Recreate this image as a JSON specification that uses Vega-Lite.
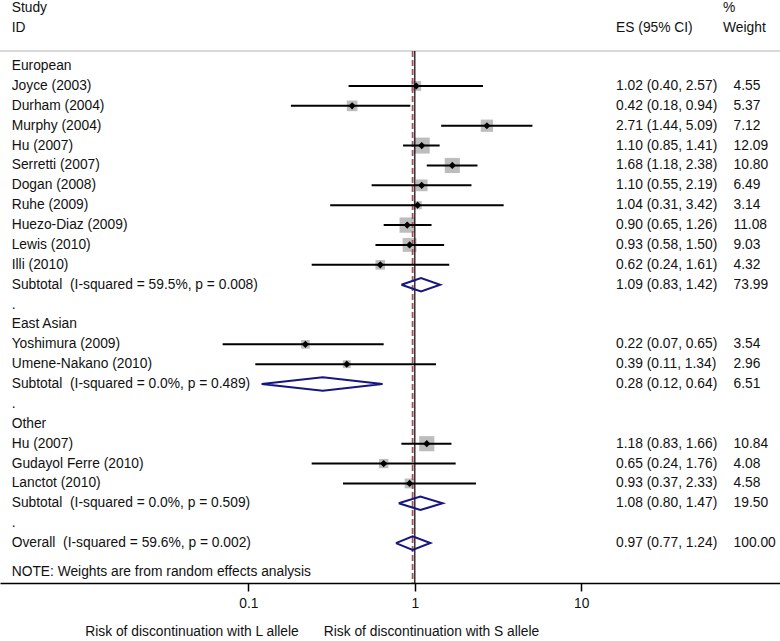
{
  "$schema": "https://vega.github.io/schema/vega-lite/v6.json",
  "width": 780,
  "height": 583,
  "autosize": {"type": "none"},
  "padding": {"left": 0, "top": 0, "right": 0, "bottom": 58},
  "config": {
    "view": {"stroke": null},
    "font": "Liberation Sans",
    "text": {"font": "Liberation Sans", "fontSize": 13.8, "color": "#111111", "baseline": "middle"}
  },
  "datasets": {
    "rows": [
      {"row": -1.92, "label": "Study", "wh": "%"},
      {"row": -0.94, "label": "ID", "estxt": "ES (95% CI)", "wh": "Weight"},
      {"row": 1, "label": "European", "kind": "head"},
      {"row": 2, "label": "Joyce (2003)", "kind": "study", "es": 1.02, "lo": 0.40, "hi": 2.57, "w": 4.55, "estxt": "1.02 (0.40, 2.57)", "wtxt": "4.55"},
      {"row": 3, "label": "Durham (2004)", "kind": "study", "es": 0.42, "lo": 0.18, "hi": 0.94, "w": 5.37, "estxt": "0.42 (0.18, 0.94)", "wtxt": "5.37"},
      {"row": 4, "label": "Murphy (2004)", "kind": "study", "es": 2.71, "lo": 1.44, "hi": 5.09, "w": 7.12, "estxt": "2.71 (1.44, 5.09)", "wtxt": "7.12"},
      {"row": 5, "label": "Hu (2007)", "kind": "study", "es": 1.10, "lo": 0.85, "hi": 1.41, "w": 12.09, "estxt": "1.10 (0.85, 1.41)", "wtxt": "12.09"},
      {"row": 6, "label": "Serretti (2007)", "kind": "study", "es": 1.68, "lo": 1.18, "hi": 2.38, "w": 10.80, "estxt": "1.68 (1.18, 2.38)", "wtxt": "10.80"},
      {"row": 7, "label": "Dogan (2008)", "kind": "study", "es": 1.10, "lo": 0.55, "hi": 2.19, "w": 6.49, "estxt": "1.10 (0.55, 2.19)", "wtxt": "6.49"},
      {"row": 8, "label": "Ruhe (2009)", "kind": "study", "es": 1.04, "lo": 0.31, "hi": 3.42, "w": 3.14, "estxt": "1.04 (0.31, 3.42)", "wtxt": "3.14"},
      {"row": 9, "label": "Huezo-Diaz (2009)", "kind": "study", "es": 0.90, "lo": 0.65, "hi": 1.26, "w": 11.08, "estxt": "0.90 (0.65, 1.26)", "wtxt": "11.08"},
      {"row": 10, "label": "Lewis (2010)", "kind": "study", "es": 0.93, "lo": 0.58, "hi": 1.50, "w": 9.03, "estxt": "0.93 (0.58, 1.50)", "wtxt": "9.03"},
      {"row": 11, "label": "Illi (2010)", "kind": "study", "es": 0.62, "lo": 0.24, "hi": 1.61, "w": 4.32, "estxt": "0.62 (0.24, 1.61)", "wtxt": "4.32"},
      {"row": 12, "label": "Subtotal\u00a0 (I-squared = 59.5%, p = 0.008)", "kind": "sub", "estxt": "1.09 (0.83, 1.42)", "wtxt": "73.99"},
      {"row": 13, "label": ".", "kind": "blank"},
      {"row": 14, "label": "East Asian", "kind": "head"},
      {"row": 15, "label": "Yoshimura (2009)", "kind": "study", "es": 0.22, "lo": 0.07, "hi": 0.65, "w": 3.54, "estxt": "0.22 (0.07, 0.65)", "wtxt": "3.54"},
      {"row": 16, "label": "Umene-Nakano (2010)", "kind": "study", "es": 0.39, "lo": 0.11, "hi": 1.34, "w": 2.96, "estxt": "0.39 (0.11, 1.34)", "wtxt": "2.96"},
      {"row": 17, "label": "Subtotal\u00a0 (I-squared = 0.0%, p = 0.489)", "kind": "sub", "estxt": "0.28 (0.12, 0.64)", "wtxt": "6.51"},
      {"row": 18, "label": ".", "kind": "blank"},
      {"row": 19, "label": "Other", "kind": "head"},
      {"row": 20, "label": "Hu (2007)", "kind": "study", "es": 1.18, "lo": 0.83, "hi": 1.66, "w": 10.84, "estxt": "1.18 (0.83, 1.66)", "wtxt": "10.84"},
      {"row": 21, "label": "Gudayol Ferre (2010)", "kind": "study", "es": 0.65, "lo": 0.24, "hi": 1.76, "w": 4.08, "estxt": "0.65 (0.24, 1.76)", "wtxt": "4.08"},
      {"row": 22, "label": "Lanctot (2010)", "kind": "study", "es": 0.93, "lo": 0.37, "hi": 2.33, "w": 4.58, "estxt": "0.93 (0.37, 2.33)", "wtxt": "4.58"},
      {"row": 23, "label": "Subtotal\u00a0 (I-squared = 0.0%, p = 0.509)", "kind": "sub", "estxt": "1.08 (0.80, 1.47)", "wtxt": "19.50"},
      {"row": 24, "label": ".", "kind": "blank"},
      {"row": 25, "label": "Overall\u00a0 (I-squared = 59.6%, p = 0.002)", "kind": "sub", "estxt": "0.97 (0.77, 1.24)", "wtxt": "100.00"},
      {"row": 26.45, "label": "NOTE: Weights are from random effects analysis", "kind": "note"}
    ],
    "diam": [
      {"g": "European", "k": 0, "x": 0.83, "row": 12},
      {"g": "European", "k": 1, "x": 1.09, "row": 11.66},
      {"g": "European", "k": 2, "x": 1.42, "row": 12},
      {"g": "European", "k": 3, "x": 1.09, "row": 12.34},
      {"g": "European", "k": 4, "x": 0.83, "row": 12},
      {"g": "East Asian", "k": 0, "x": 0.12, "row": 17},
      {"g": "East Asian", "k": 1, "x": 0.28, "row": 16.66},
      {"g": "East Asian", "k": 2, "x": 0.64, "row": 17},
      {"g": "East Asian", "k": 3, "x": 0.28, "row": 17.34},
      {"g": "East Asian", "k": 4, "x": 0.12, "row": 17},
      {"g": "Other", "k": 0, "x": 0.80, "row": 23},
      {"g": "Other", "k": 1, "x": 1.08, "row": 22.66},
      {"g": "Other", "k": 2, "x": 1.47, "row": 23},
      {"g": "Other", "k": 3, "x": 1.08, "row": 23.34},
      {"g": "Other", "k": 4, "x": 0.80, "row": 23},
      {"g": "Overall", "k": 0, "x": 0.77, "row": 25},
      {"g": "Overall", "k": 1, "x": 0.97, "row": 24.66},
      {"g": "Overall", "k": 2, "x": 1.24, "row": 25},
      {"g": "Overall", "k": 3, "x": 0.97, "row": 25.34},
      {"g": "Overall", "k": 4, "x": 0.77, "row": 25}
    ]
  },
  "layer": [
    {
      "data": {"values": [{}]},
      "mark": {"type": "rule", "color": "#cccccc", "strokeWidth": 1.5},
      "encoding": {
        "y": {"datum": 0.24, "type": "quantitative", "scale": {"domain": [-2.327, 27.01], "reverse": true, "nice": false, "zero": false}, "axis": null}
      }
    },
    {
      "data": {"name": "rows"},
      "transform": [{"filter": "datum.kind == 'study'"}],
      "mark": {"type": "square", "color": "#bdbdbd", "opacity": 1},
      "encoding": {
        "x": {"field": "es", "type": "quantitative", "scale": {"type": "log", "domain": [0.003215, 156.5], "nice": false}, "axis": {"values": [0.1, 1, 10], "format": "~g", "title": null, "grid": false, "domainColor": "#000000", "domainWidth": 1.5, "tickColor": "#000000", "tickWidth": 1.5, "tickSize": 8, "labelFontSize": 13.8, "labelColor": "#111111", "labelFont": "Liberation Sans", "labelPadding": 5, "labelFlush": false, "labelOverlap": false}},
        "y": {"field": "row", "type": "quantitative", "scale": {"domain": [-2.327, 27.01], "reverse": true, "nice": false, "zero": false}, "axis": null},
        "size": {"field": "w", "type": "quantitative", "scale": {"type": "linear", "domain": [0, 12.09], "range": [0, 256], "zero": true}, "legend": null}
      }
    },
    {
      "data": {"values": [{}]},
      "mark": {"type": "rule", "color": "#000000", "strokeWidth": 1.2},
      "encoding": {
        "x": {"datum": 1, "type": "quantitative", "scale": {"type": "log", "domain": [0.003215, 156.5], "nice": false}, "axis": {"values": [0.1, 1, 10], "format": "~g", "title": null, "grid": false, "domainColor": "#000000", "domainWidth": 1.5, "tickColor": "#000000", "tickWidth": 1.5, "tickSize": 8, "labelFontSize": 13.8, "labelColor": "#111111", "labelFont": "Liberation Sans", "labelPadding": 5, "labelFlush": false, "labelOverlap": false}},
        "y": {"datum": 0.24, "type": "quantitative", "scale": {"domain": [-2.327, 27.01], "reverse": true, "nice": false, "zero": false}, "axis": null},
        "y2": {"datum": 27.01}
      }
    },
    {
      "data": {"values": [{}]},
      "mark": {"type": "rule", "color": "#a8505a", "strokeWidth": 1.8, "strokeDash": [6, 3]},
      "encoding": {
        "x": {"datum": 0.97, "type": "quantitative", "scale": {"type": "log", "domain": [0.003215, 156.5], "nice": false}, "axis": {"values": [0.1, 1, 10], "format": "~g", "title": null, "grid": false, "domainColor": "#000000", "domainWidth": 1.5, "tickColor": "#000000", "tickWidth": 1.5, "tickSize": 8, "labelFontSize": 13.8, "labelColor": "#111111", "labelFont": "Liberation Sans", "labelPadding": 5, "labelFlush": false, "labelOverlap": false}},
        "y": {"datum": 0.24, "type": "quantitative", "scale": {"domain": [-2.327, 27.01], "reverse": true, "nice": false, "zero": false}, "axis": null},
        "y2": {"datum": 27.01}
      }
    },
    {
      "data": {"name": "rows"},
      "transform": [{"filter": "datum.kind == 'study'"}],
      "mark": {"type": "rule", "color": "#000000", "strokeWidth": 2},
      "encoding": {
        "x": {"field": "lo", "type": "quantitative", "scale": {"type": "log", "domain": [0.003215, 156.5], "nice": false}, "axis": {"values": [0.1, 1, 10], "format": "~g", "title": null, "grid": false, "domainColor": "#000000", "domainWidth": 1.5, "tickColor": "#000000", "tickWidth": 1.5, "tickSize": 8, "labelFontSize": 13.8, "labelColor": "#111111", "labelFont": "Liberation Sans", "labelPadding": 5, "labelFlush": false, "labelOverlap": false}},
        "x2": {"field": "hi"},
        "y": {"field": "row", "type": "quantitative", "scale": {"domain": [-2.327, 27.01], "reverse": true, "nice": false, "zero": false}, "axis": null}
      }
    },
    {
      "data": {"name": "rows"},
      "transform": [{"filter": "datum.kind == 'study'"}],
      "mark": {"type": "point", "shape": "diamond", "filled": true, "color": "#000000", "size": 52, "opacity": 1},
      "encoding": {
        "x": {"field": "es", "type": "quantitative", "scale": {"type": "log", "domain": [0.003215, 156.5], "nice": false}, "axis": {"values": [0.1, 1, 10], "format": "~g", "title": null, "grid": false, "domainColor": "#000000", "domainWidth": 1.5, "tickColor": "#000000", "tickWidth": 1.5, "tickSize": 8, "labelFontSize": 13.8, "labelColor": "#111111", "labelFont": "Liberation Sans", "labelPadding": 5, "labelFlush": false, "labelOverlap": false}},
        "y": {"field": "row", "type": "quantitative", "scale": {"domain": [-2.327, 27.01], "reverse": true, "nice": false, "zero": false}, "axis": null}
      }
    },
    {
      "data": {"name": "diam"},
      "mark": {"type": "line", "color": "#161680", "strokeWidth": 2},
      "encoding": {
        "x": {"field": "x", "type": "quantitative", "scale": {"type": "log", "domain": [0.003215, 156.5], "nice": false}, "axis": {"values": [0.1, 1, 10], "format": "~g", "title": null, "grid": false, "domainColor": "#000000", "domainWidth": 1.5, "tickColor": "#000000", "tickWidth": 1.5, "tickSize": 8, "labelFontSize": 13.8, "labelColor": "#111111", "labelFont": "Liberation Sans", "labelPadding": 5, "labelFlush": false, "labelOverlap": false}},
        "y": {"field": "row", "type": "quantitative", "scale": {"domain": [-2.327, 27.01], "reverse": true, "nice": false, "zero": false}, "axis": null},
        "detail": {"field": "g", "type": "nominal"},
        "order": {"field": "k", "type": "quantitative"}
      }
    },
    {
      "data": {"name": "rows"},
      "mark": {"type": "text", "align": "left"},
      "encoding": {
        "x": {"datum": 0.003779, "type": "quantitative", "scale": {"type": "log", "domain": [0.003215, 156.5], "nice": false}, "axis": {"values": [0.1, 1, 10], "format": "~g", "title": null, "grid": false, "domainColor": "#000000", "domainWidth": 1.5, "tickColor": "#000000", "tickWidth": 1.5, "tickSize": 8, "labelFontSize": 13.8, "labelColor": "#111111", "labelFont": "Liberation Sans", "labelPadding": 5, "labelFlush": false, "labelOverlap": false}},
        "y": {"field": "row", "type": "quantitative", "scale": {"domain": [-2.327, 27.01], "reverse": true, "nice": false, "zero": false}, "axis": null},
        "text": {"field": "label", "type": "nominal"}
      }
    },
    {
      "data": {"name": "rows"},
      "transform": [{"filter": "isValid(datum.estxt)"}],
      "mark": {"type": "text", "align": "left"},
      "encoding": {
        "x": {"datum": 16.19, "type": "quantitative", "scale": {"type": "log", "domain": [0.003215, 156.5], "nice": false}, "axis": {"values": [0.1, 1, 10], "format": "~g", "title": null, "grid": false, "domainColor": "#000000", "domainWidth": 1.5, "tickColor": "#000000", "tickWidth": 1.5, "tickSize": 8, "labelFontSize": 13.8, "labelColor": "#111111", "labelFont": "Liberation Sans", "labelPadding": 5, "labelFlush": false, "labelOverlap": false}},
        "y": {"field": "row", "type": "quantitative", "scale": {"domain": [-2.327, 27.01], "reverse": true, "nice": false, "zero": false}, "axis": null},
        "text": {"field": "estxt", "type": "nominal"}
      }
    },
    {
      "data": {"name": "rows"},
      "transform": [{"filter": "isValid(datum.wtxt)"}],
      "mark": {"type": "text", "align": "left"},
      "encoding": {
        "x": {"datum": 82.28, "type": "quantitative", "scale": {"type": "log", "domain": [0.003215, 156.5], "nice": false}, "axis": {"values": [0.1, 1, 10], "format": "~g", "title": null, "grid": false, "domainColor": "#000000", "domainWidth": 1.5, "tickColor": "#000000", "tickWidth": 1.5, "tickSize": 8, "labelFontSize": 13.8, "labelColor": "#111111", "labelFont": "Liberation Sans", "labelPadding": 5, "labelFlush": false, "labelOverlap": false}},
        "y": {"field": "row", "type": "quantitative", "scale": {"domain": [-2.327, 27.01], "reverse": true, "nice": false, "zero": false}, "axis": null},
        "text": {"field": "wtxt", "type": "nominal"}
      }
    },
    {
      "data": {"name": "rows"},
      "transform": [{"filter": "isValid(datum.wh)"}],
      "mark": {"type": "text", "align": "left"},
      "encoding": {
        "x": {"datum": 71.15, "type": "quantitative", "scale": {"type": "log", "domain": [0.003215, 156.5], "nice": false}, "axis": {"values": [0.1, 1, 10], "format": "~g", "title": null, "grid": false, "domainColor": "#000000", "domainWidth": 1.5, "tickColor": "#000000", "tickWidth": 1.5, "tickSize": 8, "labelFontSize": 13.8, "labelColor": "#111111", "labelFont": "Liberation Sans", "labelPadding": 5, "labelFlush": false, "labelOverlap": false}},
        "y": {"field": "row", "type": "quantitative", "scale": {"domain": [-2.327, 27.01], "reverse": true, "nice": false, "zero": false}, "axis": null},
        "text": {"field": "wh", "type": "nominal"}
      }
    },
    {
      "data": {"values": [{}]},
      "mark": {"type": "text", "align": "center"},
      "encoding": {
        "x": {"datum": 0.0458, "type": "quantitative", "scale": {"type": "log", "domain": [0.003215, 156.5], "nice": false}, "axis": {"values": [0.1, 1, 10], "format": "~g", "title": null, "grid": false, "domainColor": "#000000", "domainWidth": 1.5, "tickColor": "#000000", "tickWidth": 1.5, "tickSize": 8, "labelFontSize": 13.8, "labelColor": "#111111", "labelFont": "Liberation Sans", "labelPadding": 5, "labelFlush": false, "labelOverlap": false}},
        "y": {"datum": 29.48, "type": "quantitative", "scale": {"domain": [-2.327, 27.01], "reverse": true, "nice": false, "zero": false}, "axis": null},
        "text": {"value": "Risk of discontinuation with L allele"}
      }
    },
    {
      "data": {"values": [{}]},
      "mark": {"type": "text", "align": "center"},
      "encoding": {
        "x": {"datum": 1.26, "type": "quantitative", "scale": {"type": "log", "domain": [0.003215, 156.5], "nice": false}, "axis": {"values": [0.1, 1, 10], "format": "~g", "title": null, "grid": false, "domainColor": "#000000", "domainWidth": 1.5, "tickColor": "#000000", "tickWidth": 1.5, "tickSize": 8, "labelFontSize": 13.8, "labelColor": "#111111", "labelFont": "Liberation Sans", "labelPadding": 5, "labelFlush": false, "labelOverlap": false}},
        "y": {"datum": 29.48, "type": "quantitative", "scale": {"domain": [-2.327, 27.01], "reverse": true, "nice": false, "zero": false}, "axis": null},
        "text": {"value": "Risk of discontinuation with S allele"}
      }
    }
  ]
}
